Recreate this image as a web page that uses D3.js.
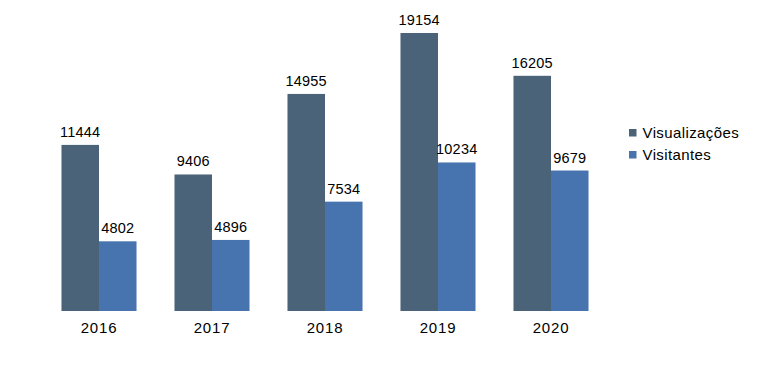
<!DOCTYPE html>
<html><head><meta charset="utf-8">
<script src="https://cdn.jsdelivr.net/npm/d3@7"></script>
<style>body{margin:0;background:#fff}svg{display:block;font-family:"Liberation Sans",Arial,sans-serif}</style>
</head><body><svg id="c" width="757" height="369"></svg>
<script>
const years = ["2016","2017","2018","2019","2020"];
const visualizacoes = [11444, 9406, 14955, 19154, 16205];
const visitantes = [4802, 4896, 7534, 10234, 9679];
const seriesNames = ["Visualizações","Visitantes"];
const colors = ["#4a6378","#4774ae"];

const svg = d3.select("#c");
const x = d3.scaleBand().domain(years).range([42.5,607.5]).paddingInner(0.336).paddingOuter(0.168);
const x1 = d3.scaleBand().domain(seriesNames).range([0,x.bandwidth()]);
const y = d3.scaleLinear().domain([0,19154]).range([311,33]);
const data = [visualizacoes, visitantes];

data.forEach((vals,si)=>{
  const g = svg.append("g");
  g.selectAll("rect").data(vals).enter().append("rect")
    .attr("x",(d,i)=>x(years[i])+x1(seriesNames[si]))
    .attr("y",d=>y(d))
    .attr("width",x1.bandwidth())
    .attr("height",d=>y(0)-y(d))
    .attr("fill",colors[si]);
  g.selectAll("text").data(vals).enter().append("text")
    .attr("x",(d,i)=>x(years[i])+x1(seriesNames[si])+x1.bandwidth()/2)
    .attr("y",d=>y(d)-8)
    .attr("text-anchor","middle").attr("font-size",14.5).attr("letter-spacing",0.2).attr("fill","#000")
    .text(d=>d);
});

const ax = svg.append("g").attr("transform","translate(0,311)")
  .call(d3.axisBottom(x).tickSize(0).tickPadding(0));
ax.select(".domain").remove();
ax.selectAll("text").attr("dy",null).attr("y",22).attr("font-size",15).attr("letter-spacing",0.8)
  .attr("fill","#000").attr("font-family","Liberation Sans, Arial, sans-serif");

const lg = svg.append("g");
seriesNames.forEach((n,i)=>{
  lg.append("rect").attr("x",629).attr("y",129+i*22).attr("width",7.5).attr("height",7.5).attr("fill",colors[i]);
  lg.append("text").attr("x",642.5).attr("y",138+i*22).attr("font-size",15).attr("letter-spacing",0.4).attr("fill","#000").text(n);
});
</script></body></html>
